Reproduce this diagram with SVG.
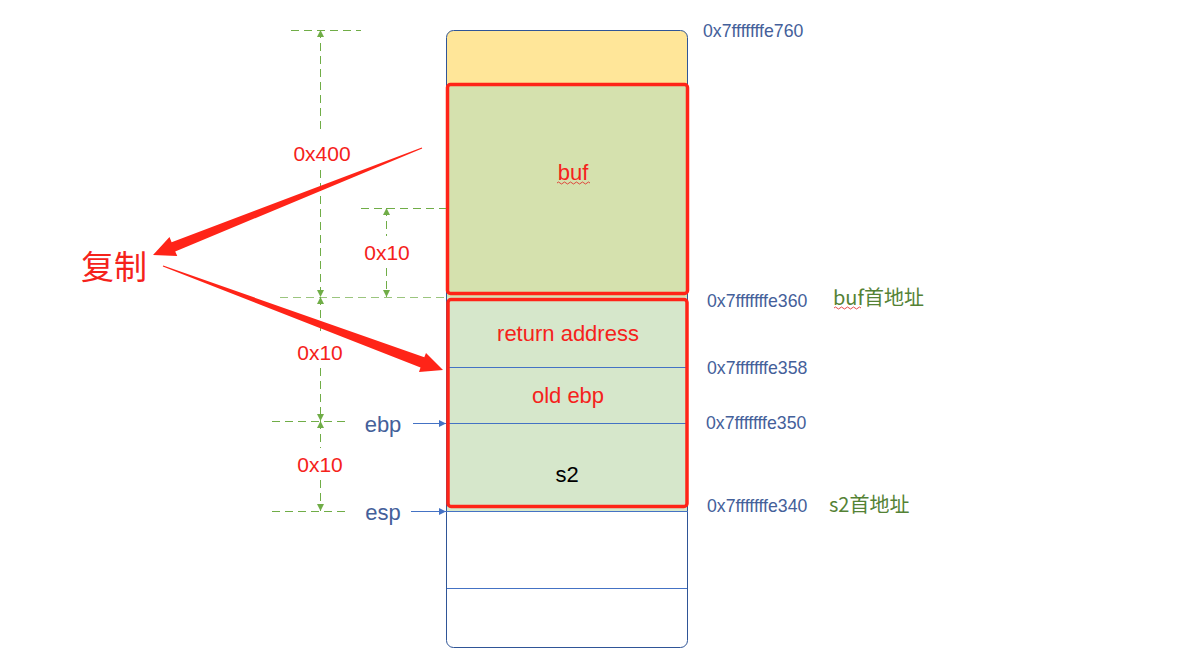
<svg xmlns="http://www.w3.org/2000/svg" width="1201" height="670" viewBox="0 0 1201 670">
<style>
.lat{font-family:"Liberation Sans","Noto Sans CJK SC",sans-serif}
.cjk{font-family:"Noto Sans CJK SC","Liberation Sans",sans-serif}
.red{fill:#F5221B}
.addr{fill:#44609A;font-size:17.7px}
.grn{fill:#548235;font-size:20px}
.dim{stroke:#70AD47;stroke-width:1;stroke-dasharray:8 5;fill:none}
.dimh{stroke:#70AD47;stroke-width:1;stroke-dasharray:8 5;fill:none}
.blue{stroke:#4472C4;stroke-width:1;fill:none}
.redbox{fill:none;stroke:#FF2418;stroke-width:3.5}
.wavy{fill:none;stroke:#E02020;stroke-width:0.8}
</style>
<defs>
<marker id="ga" viewBox="0 0 10 10" refX="10" refY="5" markerWidth="7" markerHeight="7" markerUnits="userSpaceOnUse" orient="auto-start-reverse">
<path d="M0,0 L10,5 L0,10 Z" fill="#70AD47"/>
</marker>
<marker id="ba" viewBox="0 0 10 10" refX="10" refY="5" markerWidth="7" markerHeight="7" markerUnits="userSpaceOnUse" orient="auto">
<path d="M0,0 L10,5 L0,10 Z" fill="#4472C4"/>
</marker>
</defs>
<rect width="1201" height="670" fill="#FFFFFF"/>

<g id="stack">
<path d="M447,84 V36 Q447,31 452,31 H682 Q687,31 687,36 V84 Z" fill="#FFE699"/>
<rect x="447" y="84" width="240" height="213" fill="#D5E1AE"/>
<rect x="447" y="297" width="240" height="214" fill="#D6E7CB"/>
<rect x="446.5" y="30.5" width="241" height="617" rx="7" fill="none" stroke="#2F5597" stroke-width="1"/>
<line x1="448" y1="367.5" x2="687" y2="367.5" class="blue"/>
<line x1="448" y1="423.5" x2="687" y2="423.5" class="blue"/>
<line x1="446" y1="511.5" x2="688" y2="511.5" class="blue"/>
<line x1="447" y1="588.5" x2="687" y2="588.5" class="blue"/>
</g>

<g id="buf">
<rect x="447.5" y="84.5" width="240" height="209" rx="3" class="redbox"/>
<text x="573" y="180" class="lat red" font-size="22" text-anchor="middle">buf</text>
<path class="wavy" d="M557,183 q1.5,-2 3,0 t3,0 t3,0 t3,0 t3,0 t3,0 t3,0 t3,0 t3,0 t3,0 t3,0"/>
</g>

<g id="frame">
<rect x="448" y="299.5" width="239" height="207" rx="3" class="redbox"/>
<text x="568" y="341" class="lat red" font-size="22" text-anchor="middle">return address</text>
<text x="568" y="403" class="lat red" font-size="22" text-anchor="middle">old ebp</text>
<text x="567" y="482" class="lat" font-size="22" fill="#000000" text-anchor="middle">s2</text>
</g>

<g id="addresses">
<text x="703" y="37" class="lat addr">0x7fffffffe760</text>
<text x="707" y="307" class="lat addr">0x7fffffffe360</text>
<text x="707" y="374" class="lat addr">0x7fffffffe358</text>
<text x="706" y="429" class="lat addr">0x7fffffffe350</text>
<text x="707" y="512" class="lat addr">0x7fffffffe340</text>
</g>

<g id="labels-right">
<text x="833" y="305" class="cjk grn">buf首地址</text>
<path class="wavy" d="M834,308 q1.5,-2 3,0 t3,0 t3,0 t3,0 t3,0 t3,0 t3,0 t3,0 t3,0"/>
<text x="829" y="512" class="cjk grn">s2首地址</text>
</g>

<g id="copy-label">
<text x="81" y="279" class="cjk red" font-size="33">复制</text>
</g>

<g id="pointers">
<text x="383" y="432" class="lat" font-size="22" fill="#44609A" text-anchor="middle">ebp</text>
<text x="383" y="520" class="lat" font-size="22" fill="#44609A" text-anchor="middle">esp</text>
</g>

<g id="connectors">
<line x1="413" y1="423.5" x2="446" y2="423.5" class="blue" marker-end="url(#ba)"/>
<line x1="411" y1="511.5" x2="446" y2="511.5" class="blue" marker-end="url(#ba)"/>

<line x1="291" y1="30.5" x2="361" y2="30.5" class="dimh"/>
<line x1="361" y1="208.5" x2="446" y2="208.5" class="dimh"/>
<line x1="280" y1="297.5" x2="446" y2="297.5" class="dimh" stroke-opacity="0.7"/>
<line x1="272" y1="421.5" x2="346" y2="421.5" class="dimh"/>
<line x1="272" y1="511.5" x2="346" y2="511.5" class="dimh"/>

<line x1="320.5" y1="30" x2="320.5" y2="134" class="dim" marker-start="url(#ga)"/>
<line x1="320.5" y1="170" x2="320.5" y2="297" class="dim" marker-end="url(#ga)"/>
<line x1="386.5" y1="208" x2="386.5" y2="236" class="dim" marker-start="url(#ga)"/>
<line x1="386.5" y1="268" x2="386.5" y2="297" class="dim" marker-end="url(#ga)"/>
<line x1="320.5" y1="297" x2="320.5" y2="336" class="dim" marker-start="url(#ga)"/>
<line x1="320.5" y1="368" x2="320.5" y2="421" class="dim" marker-end="url(#ga)"/>
<line x1="320.5" y1="421" x2="320.5" y2="448" class="dim" marker-start="url(#ga)"/>
<line x1="320.5" y1="480" x2="320.5" y2="511" class="dim" marker-end="url(#ga)"/>

<polygon fill="#FF2418" points="421.8,147.5 171.6,242.3 169.5,237 153,255 177.3,256 175.2,251.5 422.2,148.5"/>
<polygon fill="#FF2418" points="163.2,265.5 424.3,357.2 426,353 443,370 419,372 420.5,367.5 162.8,266.5"/>
</g>

<g id="dim-labels">
<text x="322" y="161" class="lat red" font-size="21" text-anchor="middle">0x400</text>
<text x="387" y="260" class="lat red" font-size="21" text-anchor="middle">0x10</text>
<text x="320" y="360" class="lat red" font-size="21" text-anchor="middle">0x10</text>
<text x="320" y="472" class="lat red" font-size="21" text-anchor="middle">0x10</text>
</g>
</svg>
